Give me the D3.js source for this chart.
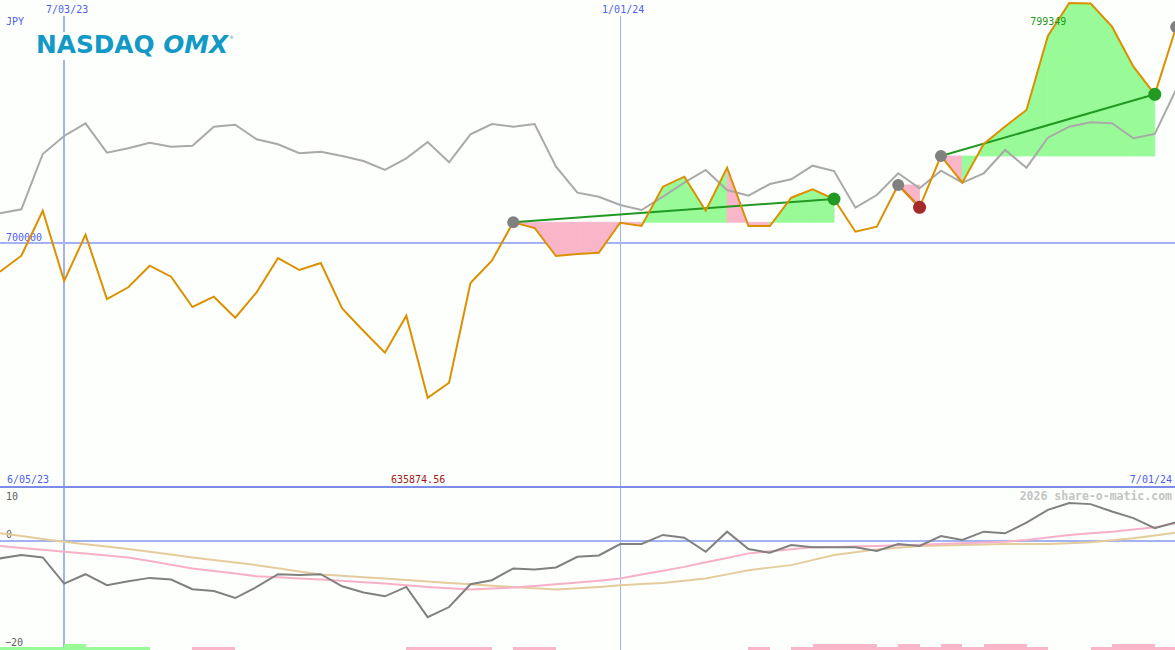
<!DOCTYPE html>
<html><head><meta charset="utf-8">
<script src="https://cdn.jsdelivr.net/npm/d3@7"></script>
<style>
html,body{margin:0;padding:0;background:#fcfffc;overflow:hidden}
svg{display:block}
text{font-family:"DejaVu Sans Mono",monospace;font-size:10px}
</style></head><body>
<svg id="c" width="1175" height="650"></svg>
<script>
// ---------- data ----------
const currency = "JPY";
const topTickLabels = ["7/03/23", "1/01/24"];
const bottomTickLabels = ["6/05/23", "7/01/24"];
const priceTick = 700000;
const oscTicks = [10, 0, -20];
const maxLabel = "799349";
const minLabel = "635874.56";
const watermark = "2026 share-o-matic.com";

// weekly closes (JPY)
const price = [688118, 694742, 713372, 684268, 703436, 676816, 681660, 690602, 686048, 673504,
  677768, 669074, 679590, 693790, 688822, 691720, 672966, 663568, 654584, 669902,
  635874.56, 642164, 683440, 692672, 708570, 706210, 694618, 695446, 695984, 708400,
  707038, 723308, 727448, 713372, 731174, 707038, 707038, 718754, 722232, 718216,
  704678, 706748, 724012, 714780, 736018, 724964, 740986, 748231, 755062, 785698,
  799349, 799100, 789548, 772988, 761562, 789424];

// comparison index, rescaled to the price axis
const bench = [712296, 713952, 736846, 744298, 749556, 737384, 739206, 741524, 739868, 740282,
  748148, 748976, 742932, 740862, 737136, 737798, 736018, 733948, 730222, 735066,
  741814, 733410, 745002, 749266, 748148, 749266, 731588, 720824, 719168, 715732,
  713662, 719168, 724964, 730222, 721942, 719582, 724426, 726372, 732002, 729808,
  714614, 719872, 728856, 722646, 729932, 724964, 728856, 738502, 731174, 743594,
  748148, 749970, 749556, 743346, 745126, 763632];

// lower panel oscillator and its two averages
const osc = [-3.22, -2.61, -3.04, -7.88, -6.15, -8.19, -7.45, -6.83, -7.13, -8.94,
  -9.26, -10.56, -8.51, -6.15, -6.28, -6.15, -8.38, -9.55, -10.24, -8.51,
  -14.1, -12.23, -8.01, -7.26, -5.08, -5.27, -4.90, -2.92, -2.68, -0.56,
  -0.56, 1.12, 0.61, -1.99, 1.73, -1.49, -2.18, -0.74, -1.17, -1.17,
  -1.17, -1.86, -0.56, -0.93, 0.93, 0.19, 1.73, 1.43, 3.41, 5.77,
  7.02, 6.83, 5.46, 4.23, 2.36, 3.48];
const maFast = [-0.93, -1.28, -1.64, -1.99, -2.33, -2.68, -3.04, -3.72, -4.39, -5.08,
  -5.57, -6.03, -6.52, -6.72, -6.93, -7.13, -7.37, -7.64, -7.88, -8.19,
  -8.51, -8.75, -8.99, -8.81, -8.62, -8.32, -8.01, -7.69, -7.36, -6.95,
  -6.22, -5.51, -4.79, -3.95, -3.13, -2.29, -1.92, -1.55, -1.17, -1.10,
  -1.01, -0.93, -0.80, -0.69, -0.56, -0.41, -0.28, -0.13, 0.19, 0.65,
  1.12, 1.43, 1.73, 2.14, 2.55, 3.30];
const maSlow = [1.43, 0.91, 0.39, -0.13, -0.58, -1.04, -1.49, -2.01, -2.51, -3.04,
  -3.52, -3.99, -4.47, -5.05, -5.63, -6.20, -6.44, -6.70, -6.94, -7.23,
  -7.49, -7.77, -8.01, -8.27, -8.51, -8.75, -8.99, -8.75, -8.51, -8.19,
  -7.97, -7.77, -7.36, -6.94, -6.18, -5.40, -4.93, -4.47, -3.54, -2.61,
  -2.09, -1.55, -1.25, -0.93, -0.84, -0.74, -0.65, -0.56, -0.56, -0.56,
  -0.41, -0.24, 0.13, 0.50, 1.02, 1.55];

// signal strip per week interval (+ buy strength, - sell strength)
const signal = [1,1,1,2,1,1,1, 0,0, -1,-1, 0,0,0,0,0,0,0,0, -1,-1,-1,-1, 0, -1,-1,
  0,0,0,0,0,0,0,0,0, -1, 0, -1, -2,-2,-2, -1, -2, -1, -2, -1, -2,-2, -1, 0,0, -1, -2,-2, -1];

// trades: week index of entry and exit
const tradeEntry = [24, 42, 44, 55];
const tradeExit  = [39, 43, 54, null];

// ---------- layout ----------
const W = 1175, H = 650;
const BG = "#fcfffc";
const gridCol = "#a4b2f2", sepCol = "#7d8ce8", labCol = "#4f5ff0";
const GREEN_FILL = "#98fb98", PINK_FILL = "#f9b6c9";

const dates = d3.timeMonday.range(new Date(2023, 5, 12), new Date(2024, 6, 2));
const gridDates = [new Date(2023, 6, 3), new Date(2024, 0, 1)];

const x = d3.scaleTime().domain([new Date(2023, 5, 5), new Date(2024, 6, 1)]).range([-21.4, 1176.2]);
const yP = d3.scaleLinear().domain([599000, 799349]).range([487, 3]);
const yO = d3.scaleLinear().domain([-20, 10]).range([649, 487]);
const hS = d3.scaleLinear().domain([0, 2]).range([0, 6]);
const xi = i => x(dates[i]);

const svg = d3.select("#c");
svg.append("rect").attr("width", W).attr("height", H).attr("fill", BG);

// grid
const g = svg.append("g").attr("shape-rendering", "crispEdges");
g.selectAll("line.v").data(gridDates).join("line")
  .attr("x1", d => Math.round(x(d))).attr("x2", d => Math.round(x(d)))
  .attr("y1", 16).attr("y2", H)
  .attr("stroke", gridCol).attr("stroke-width", (d, i) => i === 0 ? 2 : 1);
g.append("line").attr("x1", 0).attr("x2", W).attr("y1", yP(priceTick)).attr("y2", yP(priceTick))
  .attr("stroke", gridCol).attr("stroke-width", 2);
g.append("line").attr("x1", 0).attr("x2", W).attr("y1", yO(0)).attr("y2", yO(0))
  .attr("stroke", gridCol).attr("stroke-width", 2);
g.append("line").attr("x1", 0).attr("x2", W).attr("y1", 487).attr("y2", 487)
  .attr("stroke", sepCol).attr("stroke-width", 2);

// logo
svg.append("rect").attr("x", 34).attr("y", 32).attr("width", 204).attr("height", 28).attr("fill", BG);
const logo = svg.append("text").attr("x", 36).attr("y", 53)
  .style("font-family", "'DejaVu Sans',sans-serif").style("font-size", "24px").style("font-weight", "bold")
  .attr("fill", "#1299c6").attr("textLength", 192).attr("lengthAdjust", "spacingAndGlyphs");
logo.append("tspan").text("NASDAQ ");
logo.append("tspan").style("font-style", "italic").text("OMX");
svg.append("text").attr("x", 230).attr("y", 39).style("font-size", "5px").attr("fill", "#1299c6").text("®");

// labels
svg.selectAll("text.top").data(gridDates).join("text")
  .attr("x", d => x(d) + 3).attr("y", 13).attr("text-anchor", "middle").attr("fill", labCol)
  .text((d, i) => topTickLabels[i]);
svg.append("text").attr("x", 6).attr("y", 25).attr("fill", labCol).text(currency);
svg.append("text").attr("x", 6).attr("y", yP(priceTick) - 2).attr("fill", labCol).text(d3.format("d")(priceTick));
svg.append("text").attr("x", 7).attr("y", 483).attr("fill", labCol).text(bottomTickLabels[0]);
svg.append("text").attr("x", 1172).attr("y", 483).attr("text-anchor", "end").attr("fill", labCol).text(bottomTickLabels[1]);
svg.append("text").attr("x", 391).attr("y", 483).attr("fill", "#a01818").text(minLabel);
svg.append("text").attr("x", 1172).attr("y", 500).attr("text-anchor", "end").attr("fill", "#c4c4c4")
  .style("font-size", "11.5px").style("font-weight", "bold").text(watermark);
svg.selectAll("text.osc").data(oscTicks).join("text")
  .attr("x", d => d < 0 ? 5 : 6)
  .attr("y", d => d === 10 ? yO(d) + 13 : yO(d) - 3)
  .attr("fill", "#606060").text(d => d3.format("d")(d));

// trade shading (one polygon per week segment, coloured by where the segment ends)
const area = d3.area().x(d => d.x).y0(d => d.b).y1(d => d.y);
tradeEntry.forEach((e, t) => {
  const ex = tradeExit[t];
  if (ex === null) return;
  const base = price[e];
  for (let k = e; k < ex; k++) {
    const seg = [{x: xi(k), y: yP(price[k]), b: yP(base)}, {x: xi(k + 1), y: yP(price[k + 1]), b: yP(base)}];
    const col = price[k + 1] >= base ? GREEN_FILL : PINK_FILL;
    svg.append("path").attr("d", area(seg)).attr("fill", col)
      .attr("stroke", col).attr("stroke-width", 0.8).attr("stroke-linejoin", "round");
  }
});

// benchmark line
const lineP = d3.line().x((d, i) => xi(i)).y(d => yP(d));
svg.append("path").attr("d", lineP(bench)).attr("fill", "none").attr("stroke", "#a9a9a9").attr("stroke-width", 2);

// trade lines
tradeEntry.forEach((e, t) => {
  const ex = tradeExit[t];
  if (ex === null) return;
  svg.append("line").attr("x1", xi(e)).attr("y1", yP(price[e])).attr("x2", xi(ex)).attr("y2", yP(price[ex]))
    .attr("stroke", price[ex] >= price[e] ? "#229922" : "#a52a2a").attr("stroke-width", 2);
});

// price line
svg.append("path").attr("d", lineP(price)).attr("fill", "none").attr("stroke", "#dc9000").attr("stroke-width", 2);

// trade dots
tradeEntry.forEach((e, t) => {
  const ex = tradeExit[t];
  svg.append("circle").attr("cx", xi(e)).attr("cy", yP(price[e])).attr("r", 6).attr("fill", "#808080");
  if (ex !== null) {
    svg.append("circle").attr("cx", xi(ex)).attr("cy", yP(price[ex])).attr("r", 6.5)
      .attr("fill", price[ex] >= price[e] ? "#229922" : "#a52a2a");
  }
});

// max label
const iMax = d3.maxIndex(price);
svg.append("text").attr("x", xi(iMax) - 3).attr("y", 25).attr("text-anchor", "end").attr("fill", "#229922").text(maxLabel);

// lower panel
const lineO = d3.line().x((d, i) => xi(i)).y(d => yO(d));
svg.append("path").attr("d", lineO(maSlow)).attr("fill", "none").attr("stroke", "#e4cc9c").attr("stroke-width", 2);
svg.append("path").attr("d", lineO(maFast)).attr("fill", "none").attr("stroke", "#f7b0c8").attr("stroke-width", 2);
svg.append("path").attr("d", lineO(osc)).attr("fill", "none").attr("stroke", "#808080").attr("stroke-width", 2);

// signal strip
svg.append("g").attr("shape-rendering", "crispEdges").selectAll("rect").data(signal).join("rect")
  .attr("x", (d, i) => xi(i)).attr("width", (d, i) => xi(i + 1) - xi(i))
  .attr("y", d => H - hS(Math.abs(d))).attr("height", d => hS(Math.abs(d)))
  .attr("fill", d => d > 0 ? GREEN_FILL : PINK_FILL);
</script></body></html>
